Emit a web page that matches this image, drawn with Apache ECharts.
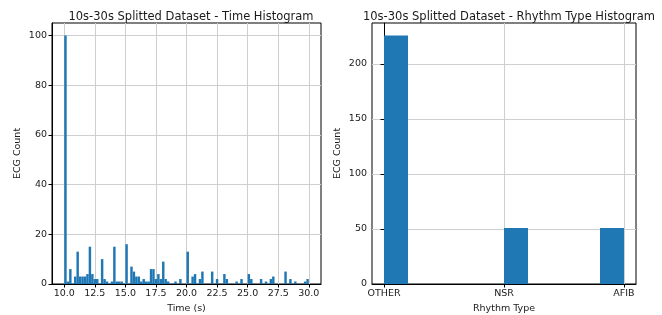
<!DOCTYPE html>
<html>
<head>
<meta charset="utf-8">
<script src="https://cdn.jsdelivr.net/npm/echarts@6/dist/echarts.min.js"></script>
<style>
  html, body { margin: 0; padding: 0; background: #fff; }
  #chart { width: 662px; height: 315px; }
</style>
</head>
<body>
<div id="chart"></div>
<script>
// time histogram: 100 bins of 0.2 s between 10 s and 30 s
const timeStart = 10
const timeBinWidth = 0.2
const timeCounts = [
  100, 1, 6, 0, 3, 13, 3, 3, 3, 4,
  15, 4, 2, 2, 0, 10, 2, 1, 0, 1,
  15, 1, 1, 1, 0, 16, 0, 7, 5, 3,
  3, 1, 2, 1, 1, 6, 6, 2, 4, 2,
  9, 2, 1, 0, 0, 1, 0, 2, 0, 0,
  13, 0, 3, 4, 0, 2, 5, 0, 0, 0,
  5, 0, 2, 0, 0, 4, 2, 0, 0, 0,
  1, 0, 2, 0, 0, 4, 2, 0, 0, 0,
  2, 0, 1, 0, 2, 3, 0, 0, 0, 0,
  5, 0, 2, 0, 1, 0, 0, 0, 1, 2
]
const timeTicks = [10, 12.5, 15, 17.5, 20, 22.5, 25, 27.5, 30]
const timeCountTicks = [0, 20, 40, 60, 80, 100]

// rhythm histogram: 10 bins over the coded types 0..2
const rhythmNames = ['OTHER', 'NSR', 'AFIB']
const rhythmStart = 0
const rhythmBinWidth = 0.2
const rhythmCounts = [226, 0, 0, 0, 0, 51, 0, 0, 0, 51]
const rhythmTicks = [0, 1, 2]
const rhythmCountTicks = [0, 50, 100, 150, 200]

const barColor = '#1f77b4'
const textColor = '#1a1a1a'
const font = 'DejaVu Sans'

function toBins(start, width, counts) {
  return counts.map((c, i) => [start + i * width, start + (i + 1) * width, c])
}

function histItem(params, api) {
  const p0 = api.coord([api.value(0), api.value(2)])
  const p1 = api.coord([api.value(1), 0])
  return {
    type: 'rect',
    shape: { x: p0[0], y: p0[1], width: p1[0] - p0[0], height: p1[1] - p0[1] },
    style: { fill: barColor }
  }
}

function valueAxis(gridIndex, min, max, ticks, formatter, name, isX) {
  return {
    type: 'value',
    gridIndex: gridIndex,
    min: min,
    max: max,
    name: name,
    nameLocation: 'middle',
    nameGap: isX ? 19 : 29,
    nameTextStyle: { color: textColor, fontFamily: font, fontSize: 9.5 },
    axisLine: { show: true, lineStyle: { color: '#000', width: 1 } },
    axisTick: { show: true, inside: false, length: 3.5, customValues: ticks, lineStyle: { color: '#000' } },
    axisLabel: {
      customValues: ticks,
      formatter: formatter,
      margin: 5,
      color: textColor,
      fontFamily: font,
      fontSize: 9.5
    },
    splitLine: { show: true, lineStyle: { color: '#cfcfcf', width: 1 } }
  }
}

const chart = echarts.init(document.getElementById('chart'))

chart.setOption({
  animation: false,
  backgroundColor: '#fff',
  title: [
    {
      text: '10s-30s Splitted Dataset - Time Histogram',
      left: 186, top: 6, textAlign: 'center',
      textStyle: { color: textColor, fontFamily: font, fontSize: 11.5, fontWeight: 'normal' }
    },
    {
      text: '10s-30s Splitted Dataset - Rhythm Type Histogram',
      left: 504, top: 6, textAlign: 'center',
      textStyle: { color: textColor, fontFamily: font, fontSize: 11.5, fontWeight: 'normal' }
    }
  ],
  grid: [
    { left: 52, right: 341, top: 23, bottom: 31, show: true, borderColor: '#000', borderWidth: 1, outerBoundsMode: 'none', containLabel: false },
    { left: 372, right: 26, top: 23, bottom: 31, show: true, borderColor: '#000', borderWidth: 1, outerBoundsMode: 'none', containLabel: false }
  ],
  xAxis: [
    valueAxis(0, 9, 31, timeTicks, v => v.toFixed(1), 'Time (s)', true),
    valueAxis(1, -0.1, 2.1, rhythmTicks, v => rhythmNames[Math.round(v)], 'Rhythm Type', true)
  ],
  yAxis: [
    valueAxis(0, 0, 105, timeCountTicks, v => String(v), 'ECG Count', false),
    valueAxis(1, 0, 237.3, rhythmCountTicks, v => String(v), 'ECG Count', false)
  ],
  series: [
    {
      type: 'custom',
      xAxisIndex: 0, yAxisIndex: 0,
      renderItem: histItem,
      encode: { x: [0, 1], y: 2 },
      data: toBins(timeStart, timeBinWidth, timeCounts)
    },
    {
      type: 'custom',
      xAxisIndex: 1, yAxisIndex: 1,
      renderItem: histItem,
      encode: { x: [0, 1], y: 2 },
      data: toBins(rhythmStart, rhythmBinWidth, rhythmCounts)
    }
  ]
})
</script>
</body>
</html>
